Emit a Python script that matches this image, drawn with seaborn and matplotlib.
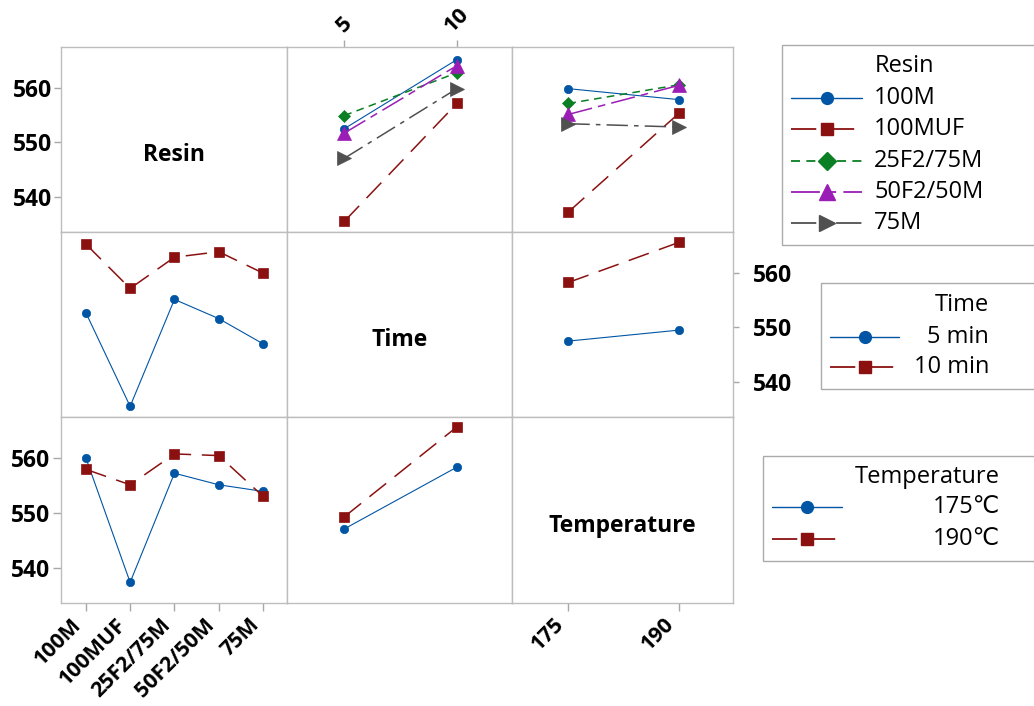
import matplotlib
matplotlib.use("Agg")
import matplotlib.pyplot as plt
import seaborn as sns
from matplotlib.lines import Line2D
from matplotlib.patches import Rectangle

# ---------------- data ----------------
resins = ["100M", "100MUF", "25F2/75M", "50F2/50M", "75M"]
time_labels = ["5", "10"]
temp_labels = ["175", "190"]
time_names = ["5 min", "10 min"]
temp_names = ["175℃", "190℃"]

# Row 1: Resin traces vs Time (5, 10) and vs Temperature (175, 190)
resin_vs_time_100M = [552.5, 565.1]
resin_vs_time_100MUF = [535.6, 557.1]
resin_vs_time_25F2 = [554.9, 562.7]
resin_vs_time_50F2 = [551.7, 564.0]
resin_vs_time_75M = [547.1, 559.8]

resin_vs_temp_100M = [559.8, 557.8]
resin_vs_temp_100MUF = [537.3, 555.3]
resin_vs_temp_25F2 = [557.1, 560.5]
resin_vs_temp_50F2 = [555.1, 560.4]
resin_vs_temp_75M = [553.4, 552.8]

# Row 2: Time traces vs Resin and vs Temperature
time5_vs_resin = [552.7, 535.6, 555.1, 551.6, 547.0]
time10_vs_resin = [565.2, 557.1, 562.8, 563.8, 559.9]
time5_vs_temp = [547.5, 549.5]
time10_vs_temp = [558.2, 565.5]

# Row 3: Temperature traces vs Resin and vs Time
temp175_vs_resin = [560.0, 537.4, 557.2, 555.1, 553.9]
temp190_vs_resin = [557.9, 555.1, 560.7, 560.4, 553.0]
temp175_vs_time = [547.1, 558.3]
temp190_vs_time = [549.3, 565.6]

# ---------------- styles ----------------
BLUE, RED, GREEN, PURPLE, GRAY = "#0055A5", "#8B1111", "#0A7F23", "#9A1DB5", "#505050"
resin_styles = [
    dict(color=BLUE, marker="o", ls="-", lw=0.8, ms=6.0, lms=8.5),
    dict(color=RED, marker="s", ls=(0, (14, 7)), lw=1.1, ms=6.5, lms=9.0),
    dict(color=GREEN, marker="D", ls=(0, (5, 3.5)), lw=1.1, ms=6.5, lms=9.0),
    dict(color=PURPLE, marker="^", ls=(0, (16, 4, 5, 4)), lw=1.1, ms=10, lms=11.5),
    dict(color=GRAY, marker=">", ls=(0, (14, 4, 3, 4)), lw=1.1, ms=10, lms=11.5),
]
two_styles = [resin_styles[0], resin_styles[1]]

sns.set_theme(style="white")
plt.rcParams["font.family"] = ["Open Sans", "DejaVu Sans"]
plt.rcParams["text.color"] = "black"

W, H = 1034, 706
fig = plt.figure(figsize=(W / 100, H / 100), dpi=100)

col_edges = [61, 287, 512, 733]
row_edges = [47, 232, 417, 603]
SPINE = "#BDBDBD"
TICKC = "#A8A8A8"
TICK_FS = 16.5
XTICK_FS = 15.5
YLIM = (533.65, 567.4)
xlims = [(-0.56, 4.54), (-0.51, 1.49), (-0.51, 1.49)]

axes = {}
for r in range(3):
    for c in range(3):
        x0, x1 = col_edges[c], col_edges[c + 1]
        y0, y1 = row_edges[r], row_edges[r + 1]
        ax = fig.add_axes([x0 / W, 1 - y1 / H, (x1 - x0) / W, (y1 - y0) / H])
        ax.set_facecolor("white")
        ax.set_xlim(*xlims[c])
        ax.set_ylim(*YLIM)
        ax.set_yticks([540, 550, 560])
        ax.set_xticks(range(5) if c == 0 else range(2))
        for s in ax.spines.values():
            s.set_color(SPINE)
            s.set_linewidth(1.0)
        ax.tick_params(left=False, bottom=False, right=False, top=False,
                       labelleft=False, labelbottom=False,
                       labelright=False, labeltop=False,
                       color=TICKC, labelcolor="black", length=5, width=1)
        ax.grid(False)
        axes[(r, c)] = ax


def draw_series(ax, xs, ys, st):
    sns.lineplot(x=xs, y=ys, ax=ax, color=st["color"], marker=st["marker"],
                 markersize=st["ms"], linestyle=st["ls"], linewidth=st["lw"],
                 markeredgecolor=st["color"], markeredgewidth=0.5,
                 errorbar=None, sort=False, legend=False)


# Row 1 (Resin legend)
resin_time = [resin_vs_time_100M, resin_vs_time_100MUF, resin_vs_time_25F2,
              resin_vs_time_50F2, resin_vs_time_75M]
resin_temp = [resin_vs_temp_100M, resin_vs_temp_100MUF, resin_vs_temp_25F2,
              resin_vs_temp_50F2, resin_vs_temp_75M]
for vals, st in zip(resin_time, resin_styles):
    draw_series(axes[(0, 1)], list(range(len(time_labels))), vals, st)
for vals, st in zip(resin_temp, resin_styles):
    draw_series(axes[(0, 2)], list(range(len(temp_labels))), vals, st)

# Row 2 (Time legend)
for vals, st in zip([time5_vs_resin, time10_vs_resin], two_styles):
    draw_series(axes[(1, 0)], list(range(len(resins))), vals, st)
for vals, st in zip([time5_vs_temp, time10_vs_temp], two_styles):
    draw_series(axes[(1, 2)], list(range(len(temp_labels))), vals, st)

# Row 3 (Temperature legend)
for vals, st in zip([temp175_vs_resin, temp190_vs_resin], two_styles):
    draw_series(axes[(2, 0)], list(range(len(resins))), vals, st)
for vals, st in zip([temp175_vs_time, temp190_vs_time], two_styles):
    draw_series(axes[(2, 1)], list(range(len(time_labels))), vals, st)

for ax in axes.values():
    ax.set_xlabel("")
    ax.set_ylabel("")

# Diagonal labels
for i, name in enumerate(["Resin", "Time", "Temperature"]):
    axes[(i, i)].text(0.5, 0.415, name, transform=axes[(i, i)].transAxes,
                      ha="center", va="center", fontsize=16.5, fontweight="bold",
                      color="black")

# y tick labels
ylabs = ["540", "550", "560"]
for r in (0, 2):
    ax = axes[(r, 0)]
    ax.tick_params(left=True, labelleft=True, length=5, pad=1.5)
    ax.set_yticklabels(ylabs, fontsize=TICK_FS, fontweight="bold", color="black")
ax = axes[(1, 2)]
ax.tick_params(right=True, labelright=True, length=4, pad=10)
ax.set_yticklabels(ylabs, fontsize=TICK_FS, fontweight="bold", color="black")

# x tick labels
ax = axes[(2, 0)]
ax.tick_params(bottom=True, labelbottom=True, length=6, pad=2)
ax.set_xticklabels(resins, fontsize=XTICK_FS, fontweight="bold", rotation=45,
                   ha="right", color="black")
ax = axes[(2, 2)]
ax.tick_params(bottom=True, labelbottom=True, length=6, pad=2)
ax.set_xticklabels(temp_labels, fontsize=XTICK_FS, fontweight="bold", rotation=45,
                   ha="right", color="black")
ax = axes[(0, 1)]
ax.tick_params(top=True, labeltop=True, length=5, pad=2.5)
ax.set_xticklabels(time_labels, fontsize=16, fontweight="bold", rotation=45,
                   ha="center", color="black")

# ---------------- legends (drawn in figure pixel coordinates) ----------------
LEG_FS = 17


def fx(x):
    return x / W


def fy(y):
    return 1 - y / H


def legend_box(x0, y0, y1):
    fig.add_artist(Rectangle((fx(x0), fy(y1)), fx(W + 20 - x0), fy(y0) - fy(y1),
                             transform=fig.transFigure, facecolor="white",
                             edgecolor="#ABABAB", linewidth=1.0, clip_on=False))


def legend_handle(xa, xb, y, st):
    fig.add_artist(Line2D([fx(xa), fx(xb)], [fy(y), fy(y)], transform=fig.transFigure,
                          color=st["color"], linestyle=st["ls"], linewidth=st["lw"] + 0.2))
    fig.add_artist(Line2D([fx((xa + xb) / 2)], [fy(y)], transform=fig.transFigure,
                          color=st["color"], marker=st["marker"], markersize=st["lms"],
                          markeredgecolor=st["color"], linestyle="none"))


# Resin legend
legend_box(782, 45, 245)
fig.text(fx(875), fy(66), "Resin", ha="left", va="center", fontsize=LEG_FS)
for i, (name, st) in enumerate(zip(resins, resin_styles)):
    y = 98 + i * 31.3
    legend_handle(791, 862, y, st)
    fig.text(fx(874), fy(y), name, ha="left", va="center", fontsize=LEG_FS)

# Time legend
legend_box(821, 283, 389)
fig.text(fx(989), fy(305), "Time", ha="right", va="center", fontsize=LEG_FS)
for i, (name, st) in enumerate(zip(time_names, two_styles)):
    y = 337 + i * 30
    legend_handle(830, 899, y, st)
    fig.text(fx(989), fy(y), name, ha="right", va="center", fontsize=LEG_FS)

# Temperature legend
legend_box(763, 456, 561)
fig.text(fx(1000), fy(477), "Temperature", ha="right", va="center", fontsize=LEG_FS)
for i, (name, st) in enumerate(zip(temp_names, two_styles)):
    y = 507 + i * 32
    legend_handle(772, 842, y, st)
    fig.text(fx(1000), fy(y), name, ha="right", va="center", fontsize=LEG_FS)

fig.savefig("out.png", dpi=100, facecolor="white")
